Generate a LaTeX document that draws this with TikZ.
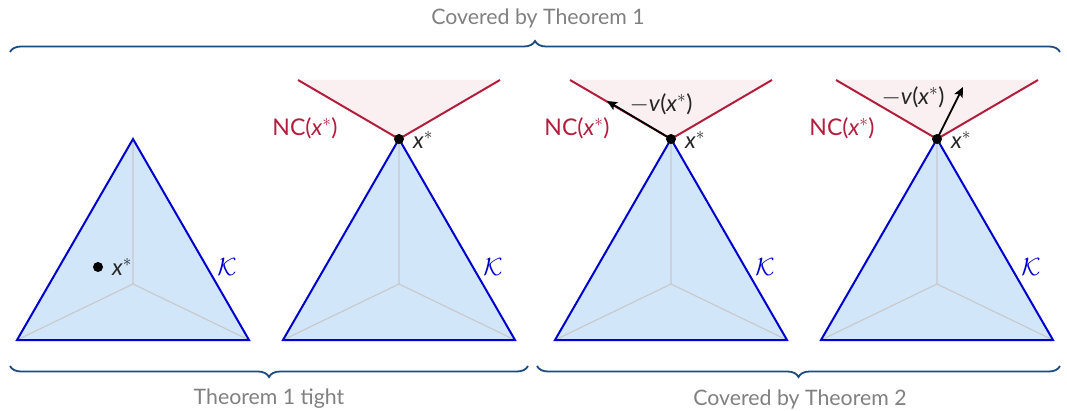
\documentclass[tikz,border=0pt]{standalone}
\usepackage{fontspec}
\setmainfont{Lato}
\usetikzlibrary{decorations.pathreplacing,arrows.meta,calc}
\definecolor{kblue}{RGB}{0,0,205}
\definecolor{kfill}{RGB}{210,230,250}
\definecolor{kgray}{RGB}{200,200,200}
\definecolor{ncred}{RGB}{178,30,60}
\definecolor{ncfill}{RGB}{250,240,242}
\definecolor{bracecol}{RGB}{30,75,125}
\definecolor{capgray}{RGB}{128,128,128}
\newcommand{\xst}{\textit{x}$^{\ast}$}
\newcommand{\drawpanel}[2]{%
  \coordinate (#1top) at (#2,139);
  \coordinate (#1bl) at (#2-116,340);
  \coordinate (#1br) at (#2+116,340);
  \coordinate (#1c) at (#2,284);
  \fill[kfill] (#1top) -- (#1bl) -- (#1br) -- cycle;
  \draw[innerline] (#1top) -- (#1c) (#1bl) -- (#1c) -- (#1br);
  \draw[kedge] (#1top) -- (#1bl) -- (#1br) -- cycle;
  \node[klabel] (#1K) at (#2+94,267) {$\mathcal{K}$};
}
\newcommand{\drawcone}[1]{%
  \coordinate (#1cl) at ($(#1top)+(-101,-59)$);
  \coordinate (#1cr) at ($(#1top)+(101,-59)$);
  \fill[ncfill] (#1top) -- (#1cl) -- (#1cr) -- cycle;
  \draw[ncedge] (#1cl) -- (#1top) -- (#1cr);
}
\begin{document}
\begin{tikzpicture}[x=1pt,y=-1pt,
  innerline/.style={kgray,line width=1.1pt},
  kedge/.style={kblue,line width=2pt,line join=miter},
  ncedge/.style={ncred,line width=2pt},
  klabel/.style={text=kblue,font=\fontsize{24}{28}\selectfont,inner sep=0pt},
  lab/.style={font=\fontsize{23}{27}\selectfont,inner sep=0pt,text=black!85},
  nclab/.style={lab,text=ncred},
  captext/.style={font=\fontsize{21.3}{25}\selectfont,text=capgray,inner sep=0pt},
  brc/.style={bracecol,line width=1.8pt,decorate,decoration={brace,amplitude=11pt}},
  apexdot/.style={circle,fill=black,inner sep=0pt,minimum size=10pt},
  vec/.style={line width=1.8pt,-{Stealth[length=10pt,width=9pt,inset=2pt]}}]
\useasboundingbox (0,0) rectangle (1067,411);
% panels
\drawpanel{a}{133}
\drawpanel{b}{399}
\drawpanel{c}{671}
\drawpanel{d}{937}
\drawcone{b}
\drawcone{c}
\drawcone{d}
% panel 1 point
\node[apexdot] (adot) at (98,267) {};
\node[lab] (ax) at (122,267) {\xst};
% apex dots and labels
\node[apexdot] (bdot) at (btop) {};
\node[apexdot] (cdot) at (ctop) {};
\node[apexdot] (ddot) at (dtop) {};
\node[lab] (bx) at (423,140) {\xst};
\node[lab] (cx) at (695,140) {\xst};
\node[lab] (dx) at (961,140) {\xst};
\node[nclab] (bnc) at (305,128) {NC(\xst)};
\node[nclab] (cnc) at (577,128) {NC(\xst)};
\node[nclab] (dnc) at (842,128) {NC(\xst)};
% vectors
\coordinate (cv) at (607,101);
\coordinate (dv) at (963,87);
\draw[vec] (ctop) -- (cv);
\draw[vec] (dtop) -- (dv);
\node[lab] (cvl) at (661,104) {$-$\textit{v}(\xst)};
\node[lab] (dvl) at (913,97) {$-$\textit{v}(\xst)};
% braces
\coordinate (t1) at (10,52);
\coordinate (t2) at (1060,52);
\draw[brc] (t1) -- (t2);
\node[captext] (tcap) at (538,18) {Covered by Theorem 1};
\coordinate (l1) at (10,366);
\coordinate (l2) at (528,366);
\draw[brc,decoration={mirror}] (l1) -- (l2);
\node[captext] (lcap) at (269,399) {Theorem 1 tight};
\coordinate (r1) at (537,366);
\coordinate (r2) at (1060,366);
\draw[brc,decoration={mirror}] (r1) -- (r2);
\node[captext] (rcap) at (800,399) {Covered by Theorem 2};
\end{tikzpicture}
\end{document}
